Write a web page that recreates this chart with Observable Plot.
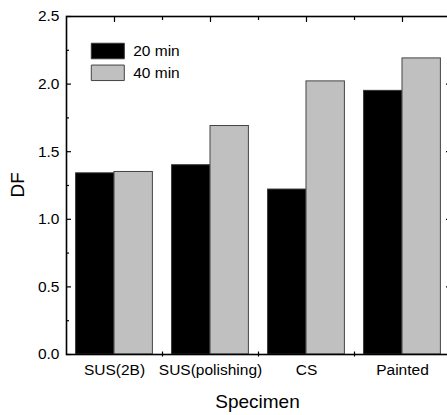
<!DOCTYPE html>
<html><head><meta charset="utf-8">
<script src="https://cdn.jsdelivr.net/npm/d3@7"></script>
<script src="https://cdn.jsdelivr.net/npm/@observablehq/plot@0.6"></script>
<style>html,body{margin:0;padding:0;background:#fff;overflow:hidden}</style>
</head><body><div id="chart"></div>
<script>
const specimens = ["SUS(2B)", "SUS(polishing)", "CS", "Painted"];
const seriesNames = ["20 min", "40 min"];
const df20 = [1.34, 1.40, 1.22, 1.95];
const df40 = [1.35, 1.69, 2.02, 2.19];
const yMajorTicks = [0, 0.5, 1.0, 1.5, 2.0, 2.5];
const yMinorTicks = [0.25, 0.75, 1.25, 1.75, 2.25];
const xLabel = "Specimen";
const yLabel = "DF";

const rows = specimens.flatMap((s, i) => [
  {specimen: s, series: seriesNames[0], value: df20[i]},
  {specimen: s, series: seriesNames[1], value: df40[i]}
]);

const W = 447, H = 415;
const mL = 66, mR = -3, mT = 16, mB = 61;
const band = (W - mL - mR) / specimens.length;
const half = band / 2;
const outer = band * 0.1;
const font = "'Liberation Sans', Arial, Helvetica, sans-serif";
const FS = 15.5;
const swatch = {draw(ctx) { ctx.rect(-16.5, -7.75, 33, 15.5); }};

const tickY = (anchor, ticks, size) => Plot.axisY(ticks, {
  anchor, tickSize: size, dx: anchor === "left" ? size : -size,
  fill: "none", label: null, stroke: "black", strokeWidth: 1.2
});

const chart = Plot.plot({
  width: W, height: H,
  marginLeft: mL, marginRight: mR, marginTop: mT, marginBottom: mB,
  style: {fontFamily: font, fontSize: FS + "px", color: "black", background: "white"},
  x: {type: "band", domain: specimens, padding: 0},
  y: {domain: [0, 2.5]},
  color: {domain: seriesNames, range: ["#000000", "#c0c0c0"]},
  marks: [
    Plot.barY(rows.filter(d => d.series === seriesNames[0]), {
      x: "specimen", y: "value", fill: "series", stroke: "#333", strokeWidth: 1,
      insetLeft: outer, insetRight: half
    }),
    Plot.barY(rows.filter(d => d.series === seriesNames[1]), {
      x: "specimen", y: "value", fill: "series", stroke: "#444", strokeWidth: 1,
      insetLeft: half, insetRight: outer
    }),
    // y ticks (inward) left & right
    tickY("left", yMajorTicks, 5),
    tickY("left", yMinorTicks, 3),
    tickY("right", yMajorTicks, 5),
    tickY("right", yMinorTicks, 3),
    // y labels
    Plot.axisY(yMajorTicks, {anchor: "left", tickSize: 0, tickPadding: 7,
      tickFormat: d3.format(".1f"), fontSize: FS, label: null}),
    // top ticks inward: centers (major) and boundaries (minor)
    Plot.axisX(specimens, {anchor: "top", tickSize: 5, dy: 5, fill: "none", label: null, stroke: "black", strokeWidth: 1.2}),
    Plot.axisX(specimens.slice(0, -1), {anchor: "top", tickSize: 3, dy: 3, dx: half, fill: "none", label: null, stroke: "black", strokeWidth: 1.2}),
    // bottom ticks crossing at boundaries
    Plot.axisX(specimens.slice(0, -1), {anchor: "bottom", tickSize: 5, dy: -2.5, dx: half, fill: "none", label: null, stroke: "black", strokeWidth: 1.2}),
    // x labels
    Plot.axisX(specimens, {anchor: "bottom", tickSize: 0, tickPadding: 9, fontSize: FS, label: null}),
    Plot.frame({stroke: "black", strokeWidth: 1.6}),
    // axis titles
    Plot.text([xLabel], {text: d => d, frameAnchor: "bottom", lineAnchor: "bottom", dx: -1, dy: 53, fontSize: 19}),
    Plot.text([yLabel], {text: d => d, frameAnchor: "left", rotate: -90, lineAnchor: "middle", dx: -49, dy: 12, fontSize: 19}),
    // legend
    Plot.dot([seriesNames[0]], {frameAnchor: "top-left", dx: 41.3, dy: 34.5, symbol: swatch, fill: d => d, stroke: "#333", strokeWidth: 1}),
    Plot.dot([seriesNames[1]], {frameAnchor: "top-left", dx: 41.3, dy: 56.3, symbol: swatch, fill: d => d, stroke: "#444", strokeWidth: 1}),
    Plot.text([seriesNames[0]], {text: d => d, frameAnchor: "top-left", dx: 66.7, dy: 34.5, textAnchor: "start", lineAnchor: "middle", fontSize: FS}),
    Plot.text([seriesNames[1]], {text: d => d, frameAnchor: "top-left", dx: 66.7, dy: 56.3, textAnchor: "start", lineAnchor: "middle", fontSize: FS})
  ]
});
document.getElementById("chart").appendChild(chart);
</script>
</body></html>
